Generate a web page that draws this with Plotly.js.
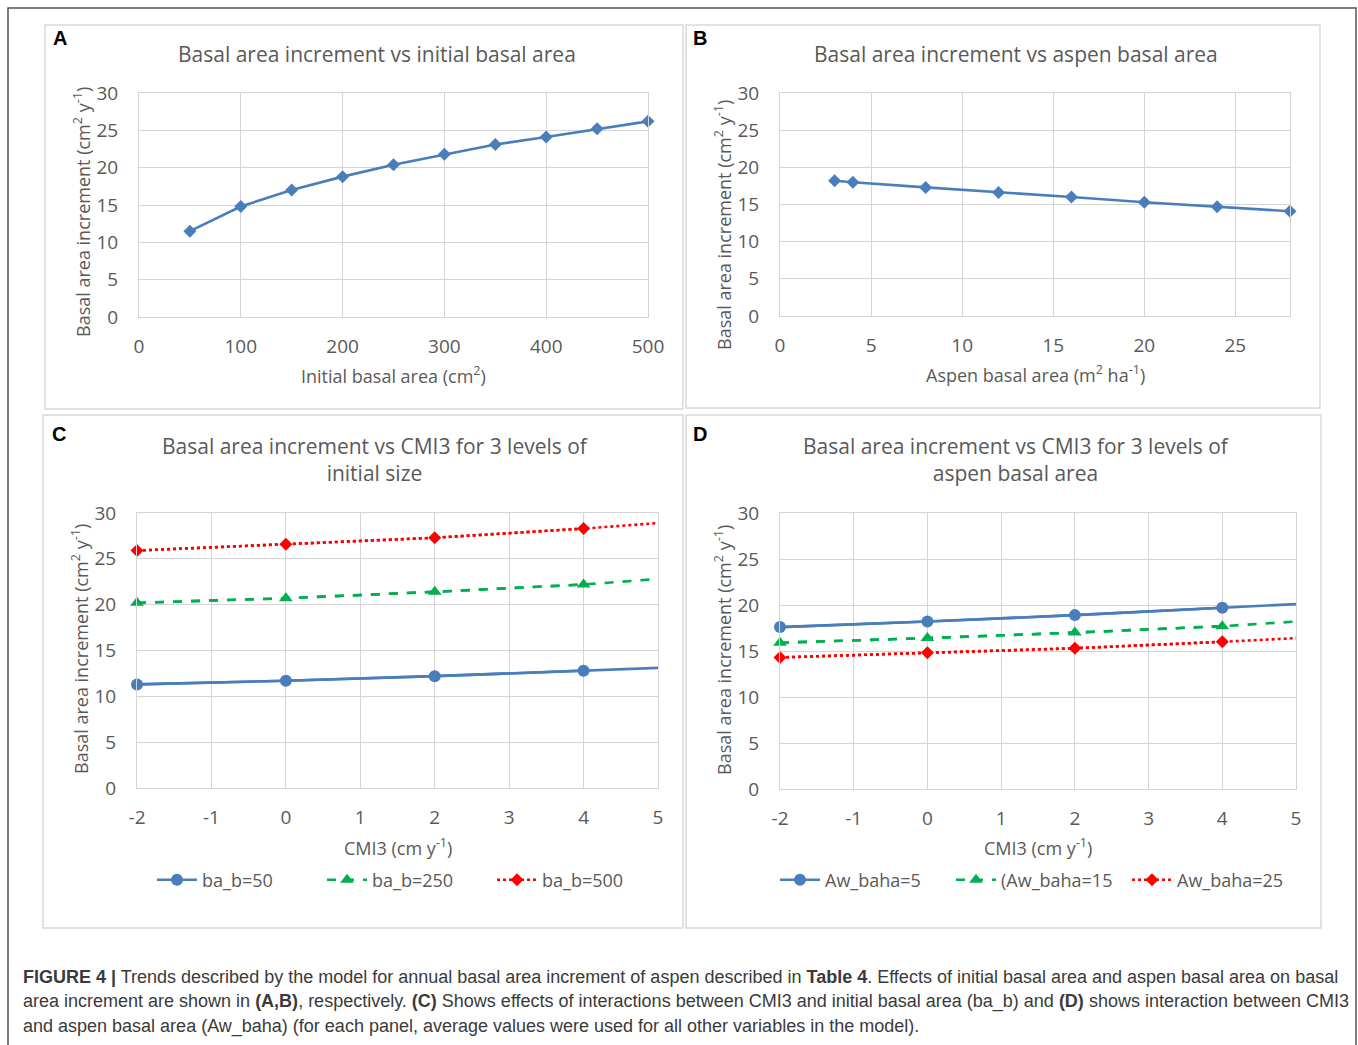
<!DOCTYPE html>
<html>
<head>
<meta charset="utf-8">
<script src="https://cdn.plot.ly/plotly-3.0.1.min.js"></script>
<style>html,body{margin:0;padding:0;background:#fff;overflow:hidden;width:1358px;height:1045px;}#chart{width:1358px;height:1045px;overflow:hidden;}</style>
</head>
<body>
<div id="chart"></div>
<script>
// ---- Data ----
const initialBA = [50, 100, 150, 200, 250, 300, 350, 400, 450, 500];
const baiVsInitial = [11.5, 14.8, 17.0, 18.8, 20.4, 21.8, 23.1, 24.1, 25.2, 26.2];

const aspenBA = [3, 4, 8, 12, 16, 20, 24, 28];
const baiVsAspen = [18.2, 18.0, 17.3, 16.6, 16.0, 15.3, 14.7, 14.1];

const cmi3 = [-2, 0, 2, 4, 5];
const markedCount = 4; // points carrying a marker (the line runs on to CMI3 = 5)

const seriesC_names = ["ba_b=50", "ba_b=250", "ba_b=500"];
const baB50 = [11.3, 11.7, 12.2, 12.8, 13.1];
const baB250 = [20.2, 20.7, 21.4, 22.2, 22.8];
const baB500 = [25.9, 26.6, 27.3, 28.3, 28.9];

const seriesD_names = ["Aw_baha=5", "(Aw_baha=15", "Aw_baha=25"];
const awBaha5 = [17.6, 18.2, 18.9, 19.7, 20.1];
const awBaha15 = [15.9, 16.4, 17.0, 17.7, 18.2];
const awBaha25 = [14.3, 14.8, 15.3, 16.0, 16.4];

const xTicksC = [-2, -1, 0, 1, 2, 3, 4, 5];
const xTickTextC = ["-2", "-1", "0", "1", "2", "3", "4", "5"];

// ---- Helpers ----
const W = 1358, H = 1045;
const px = x => x / W;
const py = y => 1 - y / H;
const FONT = "'Open Sans', Lato, sans-serif";
const GREY = "#595959";
const GRID = "#d4d4d4";
const BLUE = "#4a7ebb", GREEN = "#00b050", RED = "#ff0000";

function series(xs, ys, name, color, dash, symbol, msize, xa, ya, leg) {
  const line = {color: color, width: 2.6, dash: dash};
  return [
    {x: xs, y: ys, xaxis: xa, yaxis: ya, mode: "lines", line: line, showlegend: false, cliponaxis: false, hoverinfo: "skip"},
    {x: xs.slice(0, markedCount), y: ys.slice(0, markedCount), xaxis: xa, yaxis: ya, mode: "lines+markers",
     name: name, legend: leg, line: line, cliponaxis: false,
     marker: {symbol: symbol, size: msize, color: color}}
  ];
}

const traces = [
  {x: initialBA, y: baiVsInitial, xaxis: "x", yaxis: "y", mode: "lines+markers", cliponaxis: false,
   line: {color: BLUE, width: 2.6}, marker: {symbol: "diamond", size: 10, color: BLUE}, showlegend: false},
  {x: aspenBA, y: baiVsAspen, xaxis: "x2", yaxis: "y2", mode: "lines+markers", cliponaxis: false,
   line: {color: BLUE, width: 2.6}, marker: {symbol: "diamond", size: 10, color: BLUE}, showlegend: false}
].concat(
  series(cmi3, baB50, seriesC_names[0], BLUE, "solid", "circle", 12, "x3", "y3", "legend"),
  series(cmi3, baB250, seriesC_names[1], GREEN, "dash", "triangle-up", 12, "x3", "y3", "legend"),
  series(cmi3, baB500, seriesC_names[2], RED, "dot", "diamond", 10, "x3", "y3", "legend"),
  series(cmi3, awBaha5, seriesD_names[0], BLUE, "solid", "circle", 12, "x4", "y4", "legend2"),
  series(cmi3, awBaha15, seriesD_names[1], GREEN, "dash", "triangle-up", 12, "x4", "y4", "legend2"),
  series(cmi3, awBaha25, seriesD_names[2], RED, "dot", "diamond", 10, "x4", "y4", "legend2")
);

function xAx(l, r, range, dtick, anchor, extra) {
  return Object.assign({domain: [px(l), px(r)], range: range, dtick: dtick, tick0: 0, anchor: anchor,
    showgrid: true, gridcolor: GRID, gridwidth: 1, zeroline: false, showline: true, linecolor: GRID, linewidth: 1, mirror: true,
    ticks: "", ticklabelstandoff: 12, tickfont: {family: FONT, size: 19, color: GREY}, fixedrange: true}, extra || {});
}
function yAx(t, b, anchor) {
  return {domain: [py(b), py(t)], range: [0, 30], dtick: 5, anchor: anchor,
    showgrid: true, gridcolor: GRID, gridwidth: 1, zeroline: false, showline: true, linecolor: GRID, linewidth: 1, mirror: true,
    ticks: "", ticklabelstandoff: 16, tickfont: {family: FONT, size: 19, color: GREY}, fixedrange: true};
}

const yTitle = "Basal area increment (cm<sup>2</sup> y<sup>-1</sup>)";
function ann(text, x, y, size, opts) {
  return Object.assign({text: text, x: px(x), y: py(y), xref: "paper", yref: "paper", showarrow: false,
    xanchor: "center", yanchor: "middle", font: {family: FONT, size: size, color: GREY}}, opts || {});
}
function label(t, x, y) {
  return {text: "<b>" + t + "</b>", x: px(x), y: py(y), xref: "paper", yref: "paper", showarrow: false,
    xanchor: "left", yanchor: "middle", font: {family: "'Liberation Sans', Arial, sans-serif", size: 20, color: "#000"}};
}
const CAP = "'Liberation Sans', Arial, sans-serif";
function cap(text, y) {
  return {text: text, x: px(21), y: py(y), xref: "paper", yref: "paper", showarrow: false,
    xanchor: "left", yanchor: "middle", align: "left", font: {family: CAP, size: 18, color: "#3a3a3a"}};
}

const annotations = [
  label("A", 51, 38), label("B", 691, 38), label("C", 50, 434), label("D", 691, 434),
  ann("Basal area increment vs initial basal area", 377, 54, 21),
  ann("Basal area increment vs aspen basal area", 1016, 54, 21),
  ann("Basal area increment vs CMI3 for 3 levels of<br>initial size", 375, 459, 21),
  ann("Basal area increment vs CMI3 for 3 levels of<br>aspen basal area", 1016, 459, 21),
  ann(yTitle, 82, 212, 18, {textangle: -90}),
  ann(yTitle, 723, 225, 18, {textangle: -90}),
  ann(yTitle, 80, 649, 18, {textangle: -90}),
  ann(yTitle, 723, 650, 18, {textangle: -90}),
  ann("Initial basal area (cm<sup>2</sup>)", 393, 375, 18),
  ann("Aspen basal area (m<sup>2</sup> ha<sup>-1</sup>)", 1035, 374, 18),
  ann("CMI3 (cm y<sup>-1</sup>)", 398, 847, 18),
  ann("CMI3 (cm y<sup>-1</sup>)", 1038, 847, 18),
  cap("<b>FIGURE 4 |</b> Trends described by the model for annual basal area increment of aspen described in <b>Table 4</b>. Effects of initial basal area and aspen basal area on basal", 977),
  cap("area increment are shown in <b>(A,B)</b>, respectively. <b>(C)</b> Shows effects of interactions between CMI3 and initial basal area (ba_b) and <b>(D)</b> shows interaction between CMI3", 1001),
  cap("and aspen basal area (Aw_baha) (for each panel, average values were used for all other variables in the model).", 1026)
];

function rect(x0, y0, x1, y1, color, w) {
  return {type: "rect", xref: "paper", yref: "paper", x0: px(x0), x1: px(x1), y0: py(y1), y1: py(y0),
    line: {color: color, width: w}, fillcolor: "rgba(0,0,0,0)", layer: "below"};
}
const shapes = [
  rect(8, 8, 1356, 1060, "#555555", 1.5),
  rect(45, 25, 683, 409, "#d9d9d9", 1.5),
  rect(686, 25, 1320, 408, "#d9d9d9", 1.5),
  rect(43, 415, 683, 928, "#d9d9d9", 1.5),
  rect(686, 415, 1321, 928, "#d9d9d9", 1.5)
];

const legendCommon = {orientation: "h", xanchor: "left", yanchor: "middle", bgcolor: "rgba(0,0,0,0)",
  font: {family: FONT, size: 18, color: GREY}, itemclick: false, itemdoubleclick: false, tracegroupgap: 0,
  entrywidthmode: "pixels", itemwidth: 40};

const layout = {
  width: W, height: H, margin: {l: 0, r: 0, t: 0, b: 0},
  paper_bgcolor: "#ffffff", plot_bgcolor: "#ffffff",
  font: {family: FONT, color: GREY},
  xaxis: xAx(139, 648, [0, 500], 100, "y"),
  yaxis: yAx(93, 317, "x"),
  xaxis2: xAx(780, 1290, [0, 28], 5, "y2"),
  yaxis2: yAx(93, 316, "x2"),
  xaxis3: xAx(137, 658, [-2, 5], 1, "y3", {tickmode: "array", tickvals: xTicksC, ticktext: xTickTextC}),
  yaxis3: yAx(513, 788, "x3"),
  xaxis4: xAx(780, 1296, [-2, 5], 1, "y4", {tickmode: "array", tickvals: xTicksC, ticktext: xTickTextC}),
  yaxis4: yAx(513, 789, "x4"),
  legend: Object.assign({}, legendCommon, {x: px(152), y: py(880), entrywidth: 115}),
  legend2: Object.assign({}, legendCommon, {x: px(775), y: py(880), entrywidth: 121}),
  annotations: annotations,
  shapes: shapes
};

Plotly.newPlot("chart", traces, layout, {displayModeBar: false, staticPlot: true});
</script>
</body>
</html>
